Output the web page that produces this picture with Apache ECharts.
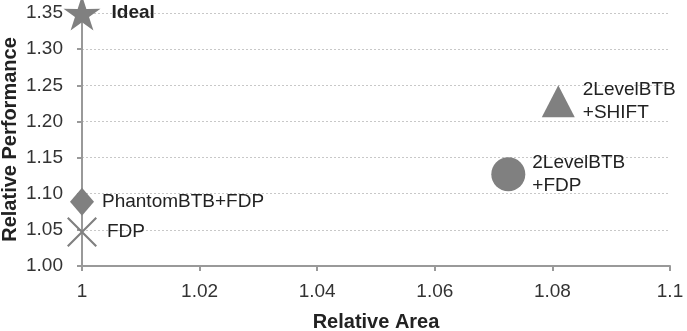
<!DOCTYPE html>
<html>
<head>
<meta charset="utf-8">
<script src="https://cdn.jsdelivr.net/npm/echarts@6/dist/echarts.min.js"></script>
<style>
  html, body { margin: 0; padding: 0; background: #fff; }
  #chart { width: 687px; height: 331px; }
</style>
</head>
<body>
<div id="chart"></div>
<script>
const names = ['Ideal', 'PhantomBTB+FDP', 'FDP', '2LevelBTB\n+FDP', '2LevelBTB\n+SHIFT']
const areas = [1.0, 1.0, 1.0, 1.0725, 1.081]
const perfs = [1.35, 1.089, 1.047, 1.127, 1.228]
const xTicks = [1, 1.02, 1.04, 1.06, 1.08, 1.1]
const yTicks = [1.0, 1.05, 1.1, 1.15, 1.2, 1.25, 1.3, 1.35]

const STAR = 'path://M50,0 L61.17,34.63 L97.55,34.55 L68.07,55.87 L79.39,90.45 L50,69 L20.61,90.45 L31.93,55.87 L2.45,34.55 L38.83,34.63 Z'
const CROSS = 'path://M0,1.5 L1.5,0 L15,13.5 L28.5,0 L30,1.5 L16.5,15 L30,28.5 L28.5,30 L15,16.5 L1.5,30 L0,28.5 L13.5,15 Z'
const symbols = [STAR, 'diamond', CROSS, 'circle', 'triangle']
const sizes = [[37, 35], [24, 28], [30, 30], [34, 34], [33, 32]]
const gaps = [11, 8, 10, 7, 8]

const GREY = '#808080'

const points = names.map((n, i) => ({
  name: n,
  value: [areas[i], perfs[i]],
  symbol: symbols[i],
  symbolSize: sizes[i],
  label: {
    show: true,
    position: 'right',
    distance: gaps[i],
    formatter: n,
    fontWeight: i === 0 ? 'bold' : 'normal'
  }
}))

const chart = echarts.init(document.getElementById('chart'))
chart.setOption({
  animation: false,
  textStyle: { fontFamily: 'Liberation Sans, Arial, sans-serif' },
  grid: { left: 82, right: 17, top: 13, bottom: 65, containLabel: false, outerBoundsMode: 'none' },
  xAxis: {
    type: 'value',
    min: xTicks[0],
    max: xTicks[xTicks.length - 1],
    interval: 0.02,
    name: 'Relative Area',
    nameLocation: 'middle',
    nameGap: 46,
    nameMoveOverlap: false,
    nameTextStyle: { fontSize: 20, fontWeight: 'bold', color: '#222' },
    axisLine: { show: true, lineStyle: { color: '#999', width: 2 } },
    axisTick: { show: true, length: 5, lineStyle: { color: '#999', width: 2 } },
    axisLabel: {
      fontSize: 19,
      color: '#333',
      margin: 16,
      formatter: v => String(parseFloat(v.toFixed(2)))
    },
    splitLine: { show: false }
  },
  yAxis: {
    type: 'value',
    min: yTicks[0],
    max: yTicks[yTicks.length - 1],
    interval: 0.05,
    name: 'Relative Performance',
    nameLocation: 'middle',
    nameGap: 62,
    nameMoveOverlap: false,
    nameTextStyle: { fontSize: 20, fontWeight: 'bold', color: '#222' },
    axisLine: { show: true, lineStyle: { color: '#999', width: 2 } },
    axisTick: { show: true, length: 5, lineStyle: { color: '#999', width: 2 } },
    axisLabel: {
      fontSize: 19,
      color: '#333',
      margin: 19,
      formatter: v => v.toFixed(2)
    },
    splitLine: { show: true, lineStyle: { color: '#c8c8c8', type: [2, 2], width: 1 } }
  },
  series: [{
    type: 'scatter',
    clip: false,
    itemStyle: { color: GREY, opacity: 1 },
    label: { color: '#222', fontSize: 19, lineHeight: 23 },
    data: points
  }]
})
</script>
</body>
</html>
